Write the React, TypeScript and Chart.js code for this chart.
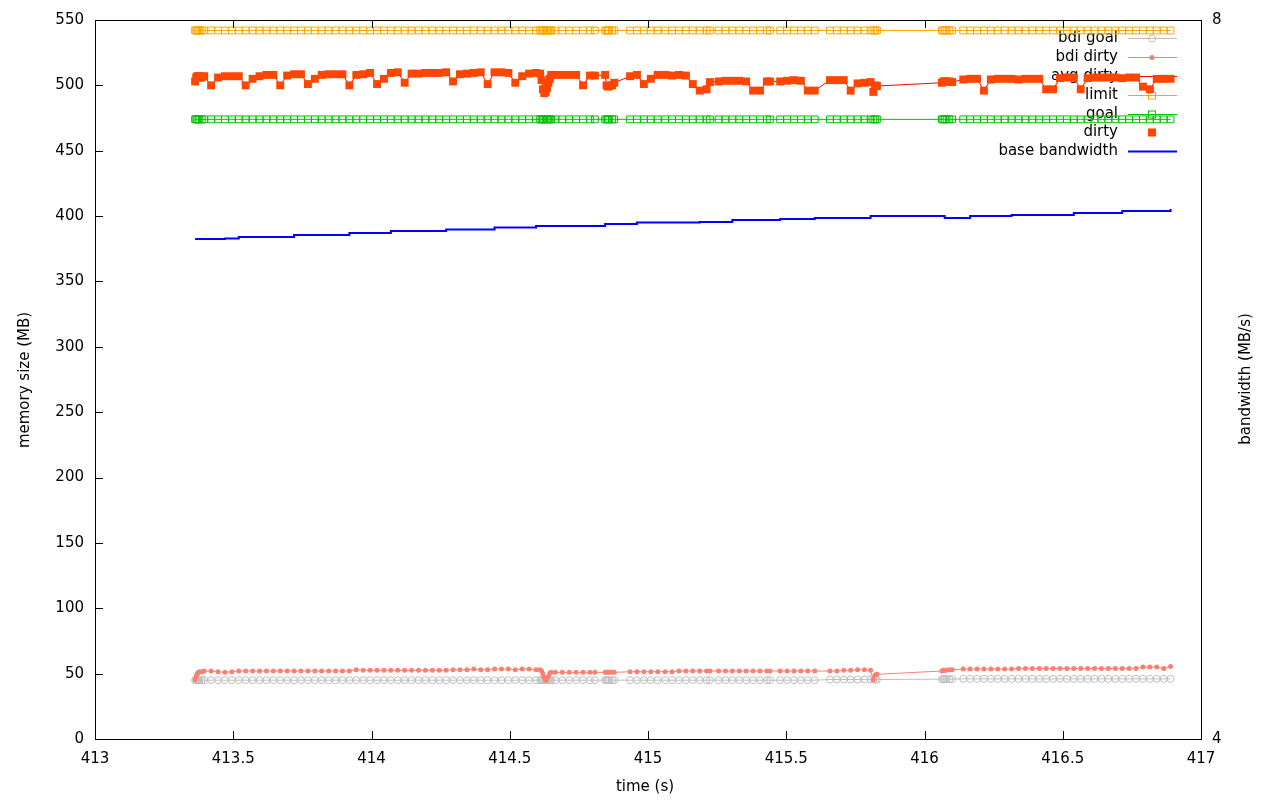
import React, { useEffect, useRef } from 'react';
import { Chart, registerables } from 'chart.js';

Chart.register(...registerables);

// time (s)
const times = [
  413.362, 413.366, 413.370, 413.374, 413.378, 413.386, 413.395, 413.420, 413.445, 413.470,
  413.495, 413.520, 413.545, 413.570, 413.595, 413.620, 413.645, 413.670, 413.695, 413.720,
  413.745, 413.770, 413.795, 413.820, 413.845, 413.870, 413.895, 413.920, 413.945, 413.970,
  413.995, 414.020, 414.045, 414.070, 414.095, 414.120, 414.145, 414.170, 414.195, 414.220,
  414.245, 414.270, 414.295, 414.320, 414.345, 414.370, 414.395, 414.420, 414.445, 414.470,
  414.495, 414.520, 414.545, 414.570, 414.595, 414.610, 414.615, 414.620, 414.625, 414.630,
  414.635, 414.640, 414.645, 414.650,
  414.665, 414.690, 414.715, 414.740, 414.765, 414.790, 414.808,
  414.845, 414.850, 414.855, 414.860, 414.870, 414.878,
  414.935, 414.960, 414.985, 415.010, 415.035,
  415.062, 415.087, 415.112, 415.137, 415.162, 415.187, 415.212, 415.224,
  415.255, 415.280, 415.305, 415.330, 415.355, 415.380, 415.405, 415.430, 415.441,
  415.478, 415.503, 415.528, 415.553, 415.578, 415.603,
  415.658, 415.683, 415.708, 415.733, 415.758, 415.783, 415.805, 415.815, 415.822, 415.828,
  416.063, 416.068, 416.073, 416.080, 416.090, 416.100,
  416.140, 416.165, 416.190, 416.215, 416.240, 416.265, 416.290, 416.315, 416.340, 416.365,
  416.390, 416.415, 416.440, 416.465, 416.490, 416.515, 416.540, 416.565, 416.590, 416.615,
  416.640, 416.665, 416.690, 416.715, 416.740, 416.765, 416.790, 416.815, 416.840, 416.865,
  416.890,
];

// memory size (MB)
const bdiGoal = [
  45, 45, 45, 45, 45, 45, 45, 45, 45, 45,
  45, 45, 45, 45, 45, 45, 45, 45, 45, 45,
  45, 45, 45, 45, 45, 45, 45, 45, 45, 45,
  45, 45, 45, 45, 45, 45, 45, 45, 45, 45,
  45, 45, 45, 45, 45, 45, 45, 45, 45, 45,
  45, 45, 45, 45, 45, 45, 45, 45, 45, 45,
  45, 45, 45, 45,
  45, 45, 45, 45, 45, 45, 45,
  45, 45, 45, 45, 45, 45,
  45, 45, 45, 45, 45,
  45, 45, 45, 45, 45, 45, 45, 45,
  45, 45, 45, 45, 45, 45, 45, 45, 45,
  45, 45, 45, 45, 45, 45,
  45.5, 45.5, 45.5, 45.5, 45.5, 45.5, 45.5, 45.5, 45.5, 45.5,
  45.8, 45.8, 45.8, 45.8, 45.8, 45.8,
  46, 46, 46, 46, 46, 46, 46, 46, 46, 46,
  46, 46, 46, 46, 46, 46, 46, 46, 46, 46,
  46, 46, 46, 46, 46, 46, 46, 46, 46, 46,
  46,
];

const bdiDirty = [
  45.5, 48, 50, 51, 51.5, 51.5, 52, 52, 51.5, 51,
  51.5, 52, 52, 52, 52, 52, 52, 52, 52, 52,
  52, 52, 52, 52, 52, 52, 52, 52, 53, 52.5,
  52.5, 52.5, 52.5, 52.5, 52.5, 52.5, 52.5, 52.5, 52.5, 52.5,
  52.5, 52.5, 53, 53, 53, 53.5, 53, 53, 53.5, 53.5,
  53.5, 53, 53.5, 53.5, 53, 53, 52, 50, 47, 45,
  45.5, 48, 50.5, 51,
  51, 51, 51, 51, 51, 51, 51,
  51, 51, 51, 51, 51, 51,
  51.5, 51.5, 51.5, 51.5, 51.5,
  51.5, 51.5, 52, 52, 52, 52, 52, 52,
  52, 52, 52, 52, 52, 52, 52, 52, 52,
  52, 52, 52, 52, 52, 52,
  52, 52, 52.5, 52.5, 53, 53, 52.5, 45.5, 49, 49.5,
  52, 52.5, 52.5, 52.5, 53, 53,
  53.5, 53.5, 53.5, 53.5, 53.5, 53.5, 53.5, 53.5, 54, 54,
  54, 54, 54, 54, 54, 54, 54, 54, 54, 54,
  54, 54, 54, 54, 54, 54, 55, 55, 55, 54,
  55.5,
];

const dirty = [
  503, 506, 507, 507, 506, 506, 507, 500, 506, 507,
  507, 507, 500, 505, 507, 508, 508, 500, 507.5, 508.5,
  508.5, 501, 505, 508, 508.5, 508.5, 508.5, 500, 508, 508.5,
  509.5, 501, 505, 509.5, 510, 502, 509, 509, 509.5, 509.5,
  509.5, 510, 503, 508.5, 509, 509.5, 510, 501, 510, 510,
  509.5, 502, 507, 509, 509.5, 509, 504, 497, 494, 495,
  498, 502, 505, 508,
  508, 508, 508, 508, 500, 507.5, 507.5,
  508, 500, 499, 499.5, 500, 502,
  507, 508, 501, 505, 508,
  508, 507.5, 508, 507.5, 501, 496, 497, 502.5,
  503, 503.5, 503.5, 503.5, 503, 496, 496, 503, 503,
  503, 503.5, 504, 503.5, 496, 496,
  504, 504, 504, 496, 501.5, 502, 502.5, 495, 500, 499.5,
  502, 503, 503, 503, 503, 502.5,
  504.5, 505, 505, 496, 504.5, 505, 505, 505, 504.5, 505,
  505, 505, 497, 497, 505.5, 506, 506, 497, 505.5, 506,
  506, 506, 506, 505.5, 506, 506, 499, 497, 505, 505,
  505,
];

// the average line runs through the dirty readings
const avgDirty = dirty;

const limit = [
  542, 542, 542, 542, 542, 542, 542, 542, 542, 542,
  542, 542, 542, 542, 542, 542, 542, 542, 542, 542,
  542, 542, 542, 542, 542, 542, 542, 542, 542, 542,
  542, 542, 542, 542, 542, 542, 542, 542, 542, 542,
  542, 542, 542, 542, 542, 542, 542, 542, 542, 542,
  542, 542, 542, 542, 542, 542, 542, 542, 542, 542,
  542, 542, 542, 542,
  542, 542, 542, 542, 542, 542, 542,
  542, 542, 542, 542, 542, 542,
  542, 542, 542, 542, 542,
  542, 542, 542, 542, 542, 542, 542, 542,
  542, 542, 542, 542, 542, 542, 542, 542, 542,
  542, 542, 542, 542, 542, 542,
  542, 542, 542, 542, 542, 542, 542, 542, 542, 542,
  542, 542, 542, 542, 542, 542,
  542, 542, 542, 542, 542, 542, 542, 542, 542, 542,
  542, 542, 542, 542, 542, 542, 542, 542, 542, 542,
  542, 542, 542, 542, 542, 542, 542, 542, 542, 542,
  542,
];

const goal = [
  474, 474, 474, 474, 474, 474, 474, 474, 474, 474,
  474, 474, 474, 474, 474, 474, 474, 474, 474, 474,
  474, 474, 474, 474, 474, 474, 474, 474, 474, 474,
  474, 474, 474, 474, 474, 474, 474, 474, 474, 474,
  474, 474, 474, 474, 474, 474, 474, 474, 474, 474,
  474, 474, 474, 474, 474, 474, 474, 474, 474, 474,
  474, 474, 474, 474,
  474, 474, 474, 474, 474, 474, 474,
  474, 474, 474, 474, 474, 474,
  474, 474, 474, 474, 474,
  474, 474, 474, 474, 474, 474, 474, 474,
  474, 474, 474, 474, 474, 474, 474, 474, 474,
  474, 474, 474, 474, 474, 474,
  474, 474, 474, 474, 474, 474, 474, 474, 474, 474,
  474, 474, 474, 474, 474, 474,
  474, 474, 474, 474, 474, 474, 474, 474, 474, 474,
  474, 474, 474, 474, 474, 474, 474, 474, 474, 474,
  474, 474, 474, 474, 474, 474, 474, 474, 474, 474,
  474,
];

// bandwidth (MB/s), right axis
const baseBandwidth = [
  6.782, 6.782, 6.782, 6.782, 6.782, 6.782, 6.782, 6.782, 6.782, 6.785,
  6.785, 6.793, 6.793, 6.793, 6.793, 6.793, 6.793, 6.793, 6.793, 6.804,
  6.804, 6.804, 6.804, 6.804, 6.804, 6.804, 6.804, 6.815, 6.815, 6.815,
  6.815, 6.815, 6.815, 6.826, 6.826, 6.826, 6.826, 6.826, 6.826, 6.826,
  6.826, 6.834, 6.834, 6.834, 6.834, 6.834, 6.834, 6.834, 6.846, 6.846,
  6.846, 6.846, 6.846, 6.846, 6.854, 6.854, 6.854, 6.854, 6.854, 6.854,
  6.854, 6.854, 6.854, 6.854,
  6.854, 6.854, 6.854, 6.854, 6.854, 6.854, 6.854,
  6.865, 6.865, 6.865, 6.865, 6.865, 6.865,
  6.865, 6.873, 6.873, 6.873, 6.873,
  6.873, 6.873, 6.873, 6.873, 6.873, 6.876, 6.876, 6.876,
  6.876, 6.876, 6.887, 6.887, 6.887, 6.887, 6.887, 6.887, 6.887,
  6.893, 6.893, 6.893, 6.893, 6.893, 6.898,
  6.898, 6.898, 6.898, 6.898, 6.898, 6.898, 6.909, 6.909, 6.909, 6.909,
  6.909, 6.909, 6.898, 6.898, 6.898, 6.898,
  6.898, 6.909, 6.909, 6.909, 6.909, 6.909, 6.909, 6.915, 6.915, 6.915,
  6.915, 6.915, 6.915, 6.915, 6.915, 6.915, 6.926, 6.926, 6.926, 6.926,
  6.926, 6.926, 6.926, 6.937, 6.937, 6.937, 6.937, 6.937, 6.937, 6.937,
  6.949,
];

const xTickValues = [413, 413.5, 414, 414.5, 415, 415.5, 416, 416.5, 417];
const yTickValues = [0, 50, 100, 150, 200, 250, 300, 350, 400, 450, 500, 550];
const y2TickValues = [4, 8];

const seriesNames = ['bdi goal', 'bdi dirty', 'avg dirty', 'limit', 'goal', 'dirty', 'base bandwidth'];

const FONT = '"DejaVu Sans", sans-serif';
const COLORS = {
  bdiGoal: '#bdbdbd',
  bdiDirty: '#fa8072',
  avgDirty: '#ff0000',
  limit: '#ffa500',
  goal: '#00c000',
  dirty: '#ff4500',
  bw: '#0000ff',
};

const pts = (ys: number[]) => times.map((t, i) => ({ x: t, y: ys[i] }));

const framePlugin = {
  id: 'gnuplotFrame',
  beforeDatasetsDraw(chart: any) {
    // key (drawn beneath the data, as in the reference)
    const ctx = chart.ctx as CanvasRenderingContext2D;
    const rows = [38, 57, 76, 95, 114, 132, 151];
    const textRight = 1118;
    const x0 = 1128;
    const x1 = 1177;
    const xm = 1152;
    ctx.save();
    ctx.font = `15px ${FONT}`;
    ctx.fillStyle = '#000';
    ctx.textAlign = 'right';
    ctx.textBaseline = 'middle';
    seriesNames.forEach((n, i) => ctx.fillText(n, textRight, rows[i]));
    const line = (y: number, c: string, w = 1) => {
      ctx.beginPath();
      ctx.strokeStyle = c;
      ctx.lineWidth = w;
      ctx.moveTo(x0, y + 0.5);
      ctx.lineTo(x1, y + 0.5);
      ctx.stroke();
    };
    line(rows[0], COLORS.bdiGoal);
    ctx.beginPath();
    ctx.arc(xm, rows[0] + 0.5, 3.5, 0, Math.PI * 2);
    ctx.strokeStyle = COLORS.bdiGoal;
    ctx.stroke();
    line(rows[1], COLORS.bdiDirty);
    ctx.beginPath();
    ctx.arc(xm, rows[1] + 0.5, 2.5, 0, Math.PI * 2);
    ctx.fillStyle = COLORS.bdiDirty;
    ctx.fill();
    line(rows[2], COLORS.avgDirty);
    line(rows[3], COLORS.limit);
    ctx.strokeStyle = COLORS.limit;
    ctx.strokeRect(xm - 3.5, rows[3] - 3, 7, 7);
    line(rows[4], COLORS.goal);
    ctx.strokeStyle = COLORS.goal;
    ctx.strokeRect(xm - 3.5, rows[4] - 3, 7, 7);
    ctx.fillStyle = COLORS.dirty;
    ctx.fillRect(xm - 4, rows[5] - 3.5, 8, 8);
    line(rows[6], COLORS.bw, 2);
    ctx.restore();
  },
  afterDatasetsDraw(chart: any) {
    const ctx = chart.ctx as CanvasRenderingContext2D;
    const { left, right, top, bottom } = chart.chartArea;
    const xs = chart.scales.x;
    const ys = chart.scales.y;
    ctx.save();
    ctx.strokeStyle = '#000';
    ctx.lineWidth = 1;
    ctx.strokeRect(left + 0.5, top + 0.5, right - left, bottom - top);
    ctx.beginPath();
    const tl = 8;
    xTickValues.forEach((v) => {
      const px = Math.round(xs.getPixelForValue(v)) + 0.5;
      ctx.moveTo(px, bottom);
      ctx.lineTo(px, bottom - tl);
      ctx.moveTo(px, top);
      ctx.lineTo(px, top + tl);
    });
    yTickValues.forEach((v) => {
      const py = Math.round(ys.getPixelForValue(v)) + 0.5;
      ctx.moveTo(left, py);
      ctx.lineTo(left + tl, py);
    });
    ctx.stroke();
    // axis titles
    ctx.fillStyle = '#000';
    ctx.font = `15px ${FONT}`;
    ctx.textAlign = 'center';
    ctx.textBaseline = 'middle';
    ctx.fillText('time (s)', 645, 787);
    ctx.save();
    ctx.translate(25, 380);
    ctx.rotate(-Math.PI / 2);
    ctx.fillText('memory size (MB)', 0, 0);
    ctx.restore();
    ctx.save();
    ctx.translate(1246, 379);
    ctx.rotate(-Math.PI / 2);
    ctx.fillText('bandwidth (MB/s)', 0, 0);
    ctx.restore();
    ctx.restore();
  },
};

export default function App() {
  const ref = useRef<HTMLCanvasElement | null>(null);
  useEffect(() => {
    if (!ref.current) return;
    const tickFont = { family: FONT, size: 15 };
    const chart = new Chart(ref.current, {
      type: 'line',
      data: {
        datasets: [
          {
            label: seriesNames[0],
            data: pts(bdiGoal),
            borderColor: COLORS.bdiGoal,
            borderWidth: 1,
            pointStyle: 'circle',
            pointRadius: 3.5,
            pointBorderWidth: 1,
            pointBorderColor: COLORS.bdiGoal,
            pointBackgroundColor: 'rgba(0,0,0,0)',
            yAxisID: 'y',
            order: 7,
          },
          {
            label: seriesNames[1],
            data: pts(bdiDirty),
            borderColor: COLORS.bdiDirty,
            borderWidth: 1,
            pointStyle: 'circle',
            pointRadius: 2.5,
            pointBorderWidth: 0,
            pointBackgroundColor: COLORS.bdiDirty,
            yAxisID: 'y',
            order: 6,
          },
          {
            label: seriesNames[2],
            data: pts(avgDirty),
            borderColor: COLORS.avgDirty,
            borderWidth: 1,
            pointRadius: 0,
            yAxisID: 'y',
            order: 5,
          },
          {
            label: seriesNames[3],
            data: pts(limit),
            borderColor: COLORS.limit,
            borderWidth: 1,
            pointStyle: 'rect',
            pointRadius: 4.8,
            pointBorderWidth: 1,
            pointBorderColor: COLORS.limit,
            pointBackgroundColor: 'rgba(0,0,0,0)',
            yAxisID: 'y',
            order: 4,
          },
          {
            label: seriesNames[4],
            data: pts(goal),
            borderColor: COLORS.goal,
            borderWidth: 1,
            pointStyle: 'rect',
            pointRadius: 4.8,
            pointBorderWidth: 1,
            pointBorderColor: COLORS.goal,
            pointBackgroundColor: 'rgba(0,0,0,0)',
            yAxisID: 'y',
            order: 3,
          },
          {
            label: seriesNames[5],
            data: pts(dirty),
            showLine: false,
            borderColor: COLORS.dirty,
            pointStyle: 'rect',
            pointRadius: 5.6,
            pointBorderWidth: 0,
            pointBackgroundColor: COLORS.dirty,
            yAxisID: 'y',
            order: 2,
          },
          {
            label: seriesNames[6],
            data: pts(baseBandwidth),
            borderColor: COLORS.bw,
            borderWidth: 2,
            pointRadius: 0,
            stepped: true,
            yAxisID: 'y2',
            order: 1,
          },
        ],
      },
      options: {
        animation: false,
        responsive: false,
        devicePixelRatio: 1,
        layout: { padding: { top: 20, left: 0, right: 0, bottom: 0 } },
        plugins: { legend: { display: false }, tooltip: { enabled: false } },
        elements: { line: { tension: 0 } },
        scales: {
          x: {
            type: 'linear',
            min: 413,
            max: 417,
            afterBuildTicks: (s: any) => {
              s.ticks = xTickValues.map((v) => ({ value: v }));
            },
            ticks: { font: tickFont, color: '#000', padding: 3, maxRotation: 0, autoSkip: false, callback: (v: any) => String(v) },
            grid: { display: false },
            border: { display: false },
            afterFit: (s: any) => { s.height = 61; },
          },
          y: {
            type: 'linear',
            position: 'left',
            min: 0,
            max: 550,
            afterBuildTicks: (s: any) => {
              s.ticks = yTickValues.map((v) => ({ value: v }));
            },
            ticks: { font: tickFont, color: '#000', padding: 3, autoSkip: false, callback: (v: any) => String(v) },
            grid: { display: false },
            border: { display: false },
            afterFit: (s: any) => { s.width = 95; },
          },
          y2: {
            type: 'linear',
            position: 'right',
            min: 4,
            max: 8,
            afterBuildTicks: (s: any) => {
              s.ticks = y2TickValues.map((v) => ({ value: v }));
            },
            ticks: { font: tickFont, color: '#000', padding: 3, autoSkip: false, callback: (v: any) => String(v) },
            grid: { display: false },
            border: { display: false },
            afterFit: (s: any) => { s.width = 79; },
          },
        },
      },
      plugins: [framePlugin],
    } as any);
    return () => chart.destroy();
  }, []);
  return (
    <div style={{ position: 'absolute', left: 0, top: 0, width: 1280, height: 800, background: '#fff' }}>
      <canvas ref={ref} width={1280} height={800} style={{ display: 'block', width: 1280, height: 800 }} />
    </div>
  );
}
